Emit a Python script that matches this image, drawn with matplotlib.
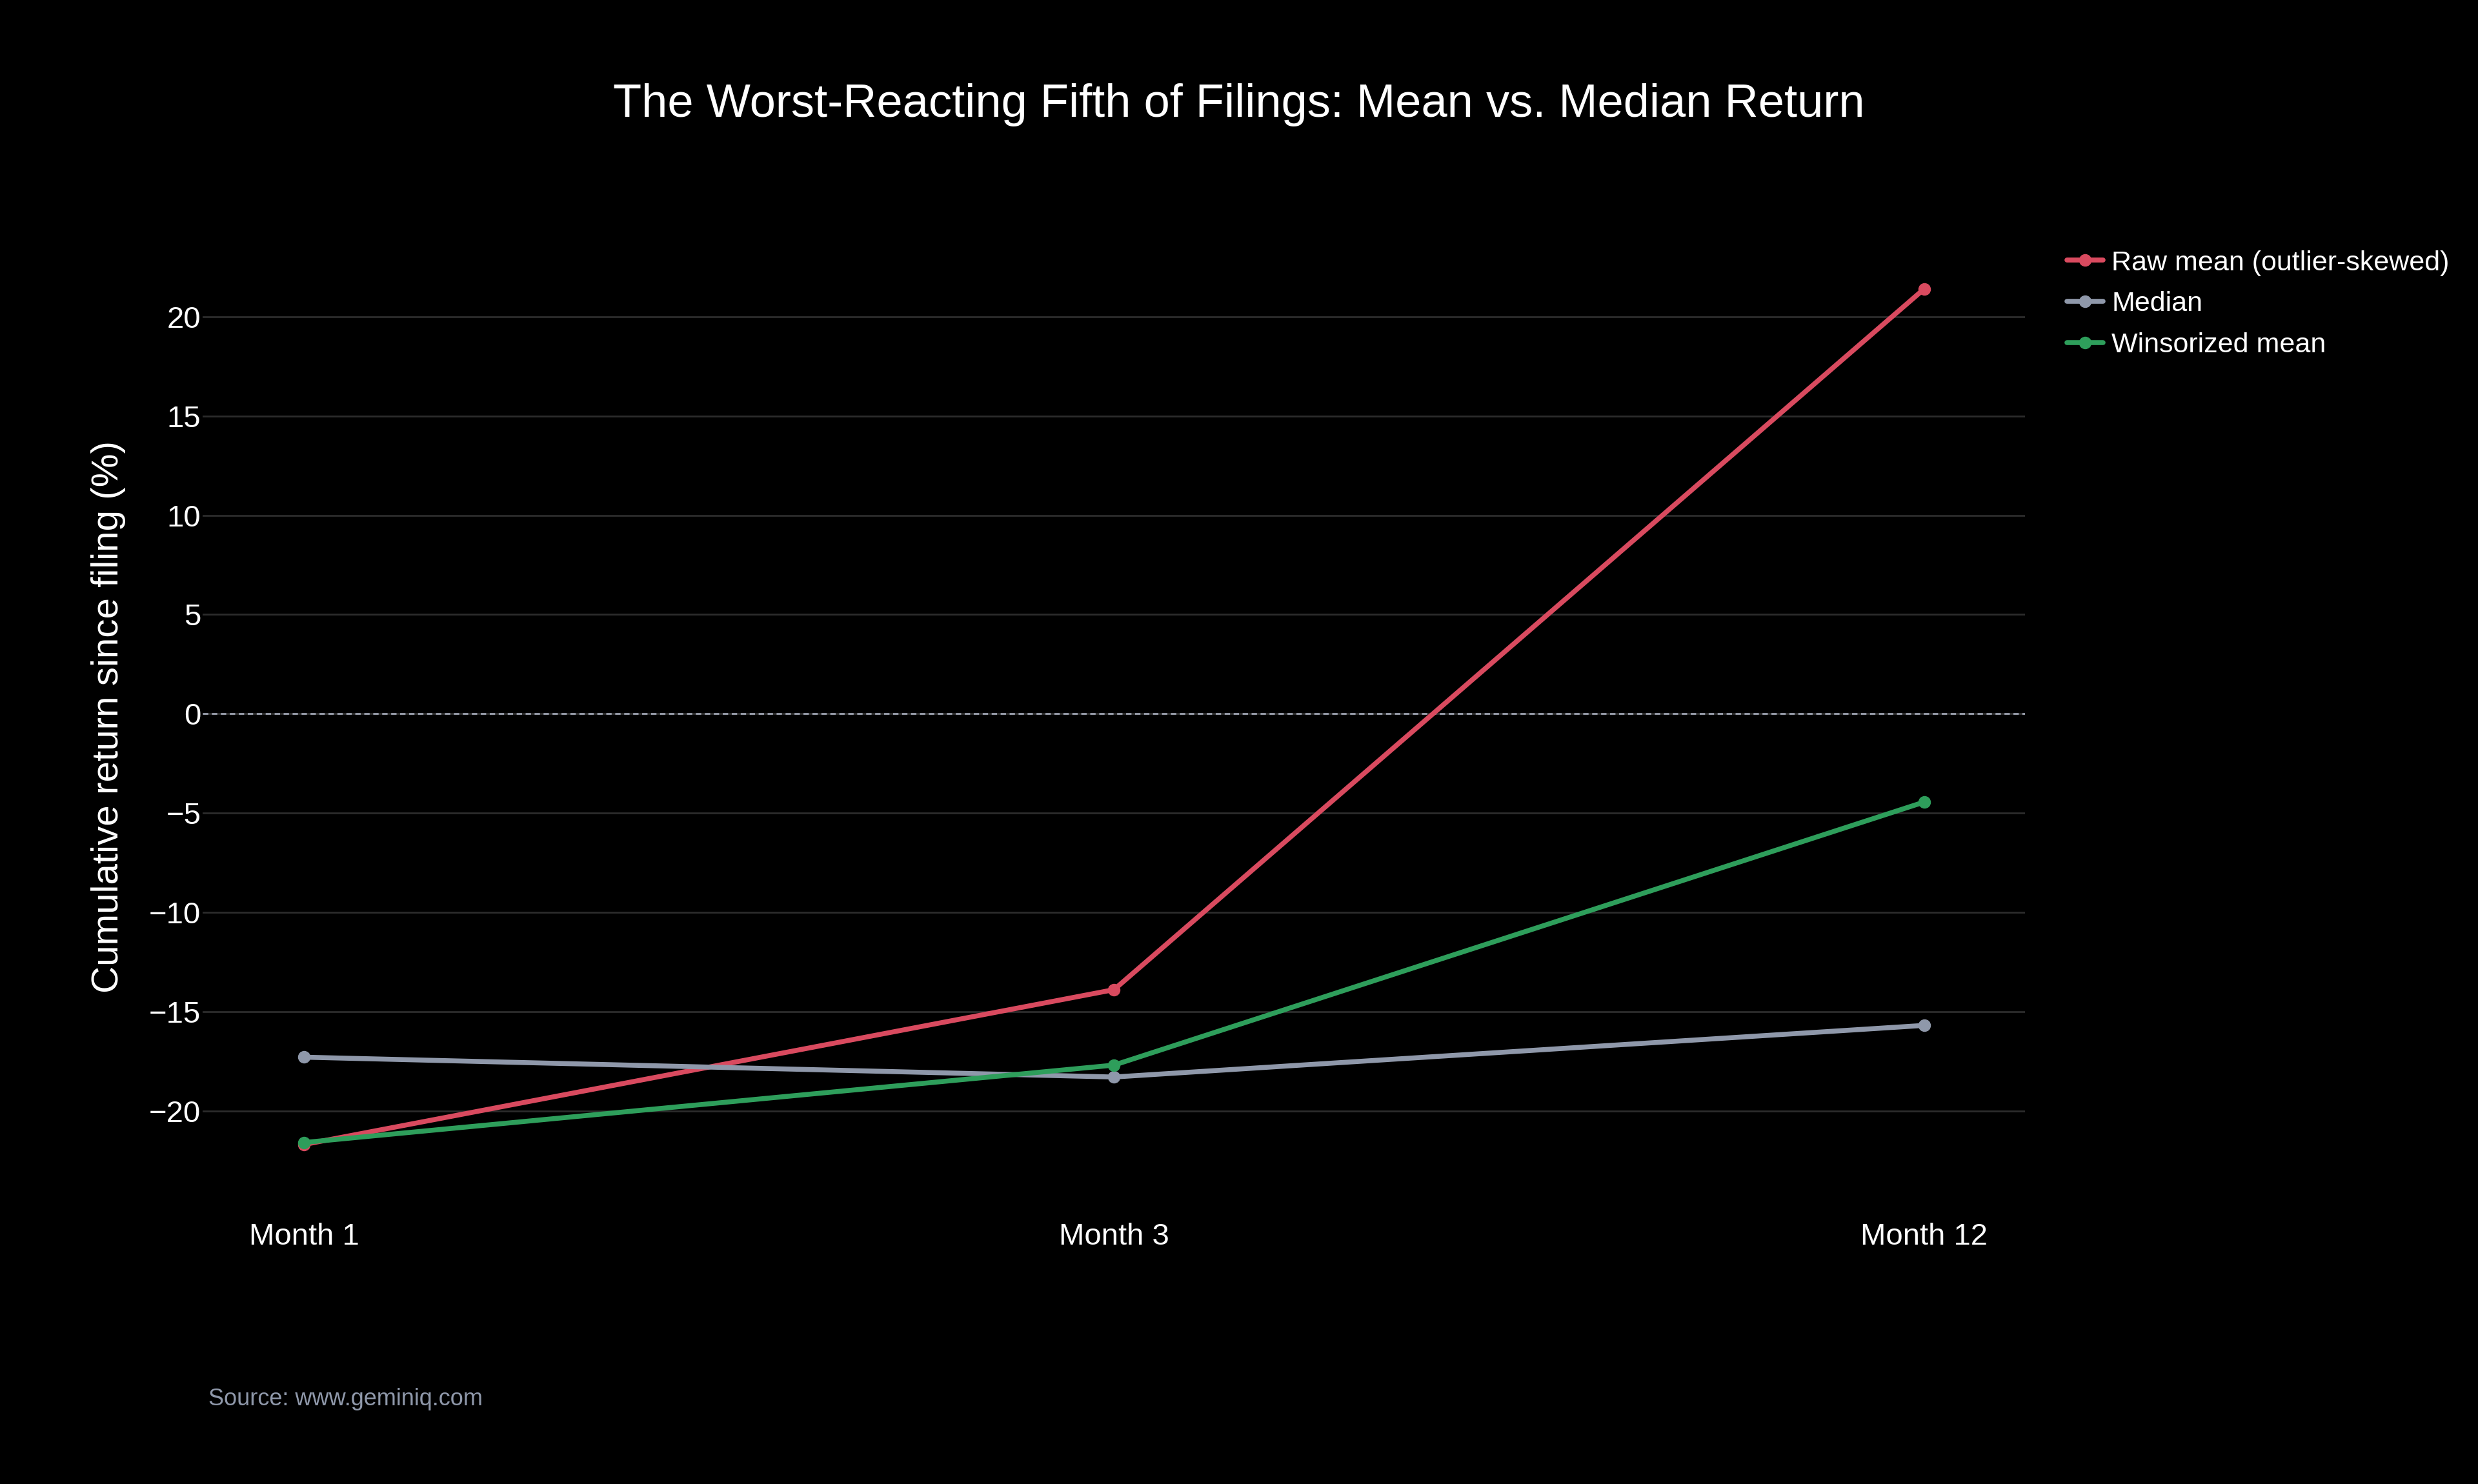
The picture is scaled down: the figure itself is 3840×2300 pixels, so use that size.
import matplotlib.pyplot as plt
import numpy as np

# Data
months = ["Month 1", "Month 3", "Month 12"]
raw_mean = [-21.7, -13.9, 21.4]
median = [-17.3, -18.3, -15.7]
winsorized = [-21.6, -17.7, -4.45]

series_names = ["Raw mean (outlier-skewed)", "Median", "Winsorized mean"]
colors = ["#d94a5f", "#8f98aa", "#2e9e5b"]

plt.rcParams["font.family"] = ["Liberation Sans", "DejaVu Sans"]

fig = plt.figure(figsize=(38.4, 23), dpi=100, facecolor="black")
ax = fig.add_axes([0.0818, 0.194, 0.7355, 0.646], facecolor="black")

x = np.arange(len(months))
for vals, name, c in zip([raw_mean, median, winsorized], series_names, colors):
    ax.plot(x, vals, color=c, lw=5.5, marker="o", ms=13, label=name,
            solid_capstyle="round", zorder=3)

# Axes styling
ax.set_xlim(-0.125, 2.125)
ax.set_ylim(-24.3, 24.0)
ax.set_yticks([-20, -15, -10, -5, 0, 5, 10, 15, 20])
ax.set_yticklabels(["\u221220", "\u221215", "\u221210", "\u22125", "0", "5", "10", "15", "20"])
ax.set_xticks(x)
ax.set_xticklabels(months)
ax.tick_params(axis="both", colors="white", labelsize=34, length=0)
ax.tick_params(axis="y", pad=2)
ax.tick_params(axis="x", pad=30)
for s in ax.spines.values():
    s.set_visible(False)
ax.grid(axis="y", color="#2c2c2c", lw=2)
ax.axhline(0, color="#9aa0ad", lw=2, ls=(0, (3, 2)), zorder=2)

ax.set_ylabel("Cumulative return since filing (%)", color="white", fontsize=42, labelpad=26)

fig.suptitle("The Worst-Reacting Fifth of Filings: Mean vs. Median Return",
             color="white", fontsize=52, x=0.5, y=0.944)

leg = fig.legend(loc="upper left", bbox_to_anchor=(0.8297, 0.839), frameon=False,
                 fontsize=31, labelcolor="white", handlelength=1.3,
                 handletextpad=0.3, labelspacing=0.55, borderaxespad=0)

fig.text(0.084, 0.053, "Source: www.geminiq.com", color="#8f98aa", fontsize=26)

fig.savefig("out.png", dpi=100, facecolor="black")
